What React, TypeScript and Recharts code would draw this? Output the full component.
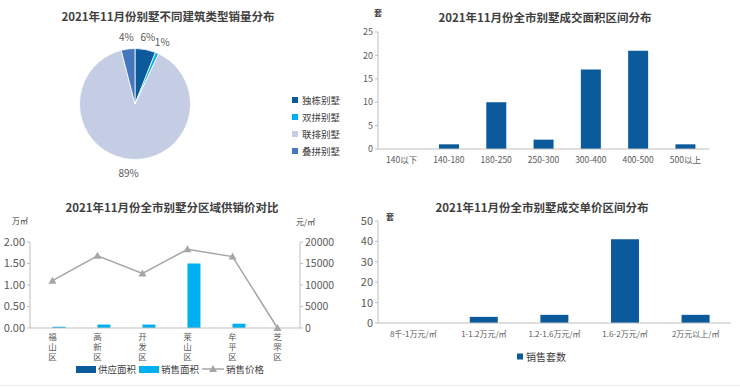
import { PieChart, Pie, Cell, BarChart, Bar, XAxis, YAxis, ComposedChart, Line } from "recharts";

const pieTypes = ["独栋别墅", "双拼别墅", "联排别墅", "叠拼别墅"];
const pieShares = [6, 1, 89, 4];
const pieColors = ["#0B5A9B", "#00B0F0", "#C4CDE4", "#4676BB"];

const areaRanges = ["140以下", "140-180", "180-250", "250-300", "300-400", "400-500", "500以上"];
const areaCounts = [0, 1, 10, 2, 17, 21, 1];

const districts = ["福山区", "高新区", "开发区", "莱山区", "牟平区", "芝罘区"];
const supplyArea = [0, 0, 0, 0, 0, 0];
const salesArea = [0.03, 0.08, 0.08, 1.5, 0.1, 0];
const salesPrice = [11000, 16800, 12700, 18300, 16600, 0];

const priceRanges = ["8千-1万元/㎡", "1-1.2万元/㎡", "1.2-1.6万元/㎡", "1.6-2万元/㎡", "2万元以上/㎡"];
const priceCounts = [0, 3, 4, 41, 4];

const FONT = "'Noto Sans CJK SC', 'Noto Sans', sans-serif";
const BLUE = "#0B5A9B";
const CYAN = "#00B0F0";
const GREY_LINE = "#A6A6A6";
const AXIS = "#BFBFBF";
const TXT = "#595959";

const pieData = pieTypes.map((name, i) => ({ name, value: pieShares[i], color: pieColors[i] }));
const areaData = areaRanges.map((name, i) => ({ name, count: areaCounts[i] }));
const districtData = districts.map((name, i) => ({
  name,
  supply: supplyArea[i],
  sales: salesArea[i],
  price: salesPrice[i],
}));
const priceData = priceRanges.map((name, i) => ({ name, count: priceCounts[i] }));

const titleStyle: React.CSSProperties = {
  position: "absolute",
  fontFamily: FONT,
  fontWeight: 700,
  fontSize: 11.5,
  color: "#404040",
  whiteSpace: "nowrap",
  transform: "translate(-50%, -50%)",
};

const smallText: React.CSSProperties = {
  position: "absolute",
  fontFamily: FONT,
  fontSize: 8,
  color: "#404040",
  whiteSpace: "nowrap",
};

const PieLabel = ({ cx, cy, midAngle, outerRadius, value }: any) => {
  const r = outerRadius + 13;
  const rad = (Math.PI / 180) * midAngle;
  const x = cx + r * Math.cos(rad);
  const y = cy - r * Math.sin(rad);
  return (
    <text x={x} y={y} textAnchor="middle" dominantBaseline="central" fontSize={10} fill={TXT} fontFamily={FONT}>
      {value}%
    </text>
  );
};

// district names run top to bottom
const VerticalTick = ({ x, y, payload }: any) => (
  <text
    x={x}
    y={y - 3}
    writingMode="vertical-rl"
    fontSize={8.5}
    letterSpacing={1.5}
    fill={TXT}
    fontFamily={FONT}
  >
    {payload.value}
  </text>
);

const Triangle = ({ cx, cy }: any) => (
  <polygon points={`${cx},${cy - 4} ${cx - 4},${cy + 3} ${cx + 4},${cy + 3}`} fill={GREY_LINE} />
);

export default function App() {
  return (
    <div style={{ position: "absolute", left: 0, top: 0, width: 740, height: 388, background: "#fff", overflow: "hidden" }}>
      {/* top left: pie */}
      <div style={{ ...titleStyle, left: 168, top: 16 }}>2021年11月份别墅不同建筑类型销量分布</div>
      <div style={{ position: "absolute", left: 0, top: 0 }}>
        <PieChart width={290} height={190}>
          <Pie
            data={pieData}
            dataKey="value"
            cx={130}
            cy={99}
            outerRadius={55.5}
            startAngle={90}
            endAngle={-270}
            stroke="#fff"
            strokeWidth={0.8}
            label={PieLabel}
            labelLine={false}
            isAnimationActive={false}
          >
            {pieData.map((d) => (
              <Cell key={d.name} fill={d.color} />
            ))}
          </Pie>
        </PieChart>
      </div>
      {pieData.map((d, i) => (
        <div
          key={d.name}
          style={{
            position: "absolute",
            left: 292,
            top: 100 + i * 17,
            transform: "translateY(-50%)",
            display: "flex",
            alignItems: "center",
            fontFamily: FONT,
            fontSize: 9.5,
            color: "#404040",
          }}
        >
          <span style={{ width: 6, height: 6, background: d.color, marginRight: 4, display: "inline-block" }} />
          {d.name}
        </div>
      ))}

      {/* top right: area distribution */}
      <div style={{ ...titleStyle, left: 545, top: 17 }}>2021年11月份全市别墅成交面积区间分布</div>
      <div style={{ ...smallText, left: 374, top: 7, fontWeight: 700 }}>套</div>
      <div style={{ position: "absolute", left: 355, top: 0 }}>
        <BarChart width={385} height={190} data={areaData} margin={{ top: 32, right: 31, left: 0, bottom: 11 }} barCategoryGap="29%">
          <XAxis
            dataKey="name"
            stroke={AXIS}
            tickLine={false}
            interval={0}
            height={30}
            tick={{ fontSize: 8.5, fill: TXT, fontFamily: FONT }}
          />
          <YAxis
            width={23}
            domain={[0, 25]}
            ticks={[0, 5, 10, 15, 20, 25]}
            stroke={AXIS}
            tickSize={3}
            tickMargin={2}
            tick={{ fontSize: 9, fill: TXT, fontFamily: FONT }}
          />
          <Bar dataKey="count" fill={BLUE} isAnimationActive={false} />
        </BarChart>
      </div>

      {/* bottom left: supply / sales / price */}
      <div style={{ ...titleStyle, left: 172, top: 207 }}>2021年11月份全市别墅分区域供销价对比</div>
      <div style={{ ...smallText, left: 12, top: 215 }}>万㎡</div>
      <div style={{ ...smallText, left: 296, top: 216 }}>元/㎡</div>
      <div style={{ position: "absolute", left: 0, top: 190 }}>
        <ComposedChart
          width={360}
          height={198}
          data={districtData}
          margin={{ top: 52, right: 20, left: 0, bottom: 20 }}
          barCategoryGap="21%"
          barGap={0}
        >
          <XAxis dataKey="name" stroke={AXIS} tickLine={false} interval={0} height={40} tick={<VerticalTick />} />
          <YAxis
            yAxisId="left"
            width={30}
            domain={[0, 2]}
            ticks={[0, 0.5, 1, 1.5, 2]}
            tickFormatter={(v: number) => v.toFixed(2)}
            stroke={AXIS}
            tickSize={3}
            tickMargin={2}
            tick={{ fontSize: 11, fill: TXT, fontFamily: FONT }}
          />
          <YAxis
            yAxisId="right"
            orientation="right"
            width={40}
            domain={[0, 20000]}
            ticks={[0, 5000, 10000, 15000, 20000]}
            stroke={AXIS}
            tickSize={3}
            tickMargin={2}
            tick={{ fontSize: 10.5, fill: TXT, fontFamily: FONT, textAnchor: "start" }}
          />
          <Bar yAxisId="left" dataKey="supply" name="供应面积" fill={BLUE} isAnimationActive={false} />
          <Bar yAxisId="left" dataKey="sales" name="销售面积" fill={CYAN} isAnimationActive={false} />
          <Line
            yAxisId="right"
            dataKey="price"
            name="销售价格"
            stroke={GREY_LINE}
            strokeWidth={1.5}
            dot={<Triangle />}
            activeDot={false}
            isAnimationActive={false}
          />
        </ComposedChart>
      </div>
      <div
        style={{
          position: "absolute",
          left: 76,
          top: 369,
          transform: "translateY(-50%)",
          display: "flex",
          alignItems: "center",
          fontFamily: FONT,
          fontSize: 9.5,
          color: "#404040",
        }}
      >
        <span style={{ width: 20, height: 7, background: BLUE, marginRight: 2 }} />
        <span style={{ marginRight: 3 }}>供应面积</span>
        <span style={{ width: 20, height: 7, background: CYAN, marginRight: 2 }} />
        <span style={{ marginRight: 3 }}>销售面积</span>
        <svg width={22} height={8} style={{ marginRight: 2 }}>
          <line x1={0} y1={4} x2={22} y2={4} stroke={GREY_LINE} strokeWidth={1.5} />
          <polygon points="11,0 7,7 15,7" fill={GREY_LINE} />
        </svg>
        <span>销售价格</span>
      </div>

      {/* bottom right: price distribution */}
      <div style={{ ...titleStyle, left: 542, top: 207 }}>2021年11月份全市别墅成交单价区间分布</div>
      <div style={{ ...smallText, left: 386, top: 211, fontWeight: 700 }}>套</div>
      <div style={{ position: "absolute", left: 355, top: 190 }}>
        <BarChart width={385} height={198} data={priceData} margin={{ top: 31, right: 9, left: 0, bottom: 40 }} barCategoryGap="30%">
          <XAxis
            dataKey="name"
            stroke={AXIS}
            tickLine={false}
            interval={0}
            height={25}
            tick={{ fontSize: 8, fill: TXT, fontFamily: FONT }}
          />
          <YAxis
            width={23}
            domain={[0, 50]}
            ticks={[0, 10, 20, 30, 40, 50]}
            stroke={AXIS}
            tickSize={3}
            tickMargin={2}
            tick={{ fontSize: 11, fill: TXT, fontFamily: FONT }}
          />
          <Bar dataKey="count" fill={BLUE} isAnimationActive={false} />
        </BarChart>
      </div>
      <div
        style={{
          position: "absolute",
          left: 517,
          top: 356,
          transform: "translateY(-50%)",
          display: "flex",
          alignItems: "center",
          fontFamily: FONT,
          fontSize: 10,
          color: "#404040",
        }}
      >
        <span style={{ width: 6, height: 6, background: BLUE, marginRight: 3 }} />
        销售套数
      </div>
      <div style={{ position: "absolute", left: 0, top: 385, width: 740, height: 1, background: "#EEEEEE" }} />
    </div>
  );
}
